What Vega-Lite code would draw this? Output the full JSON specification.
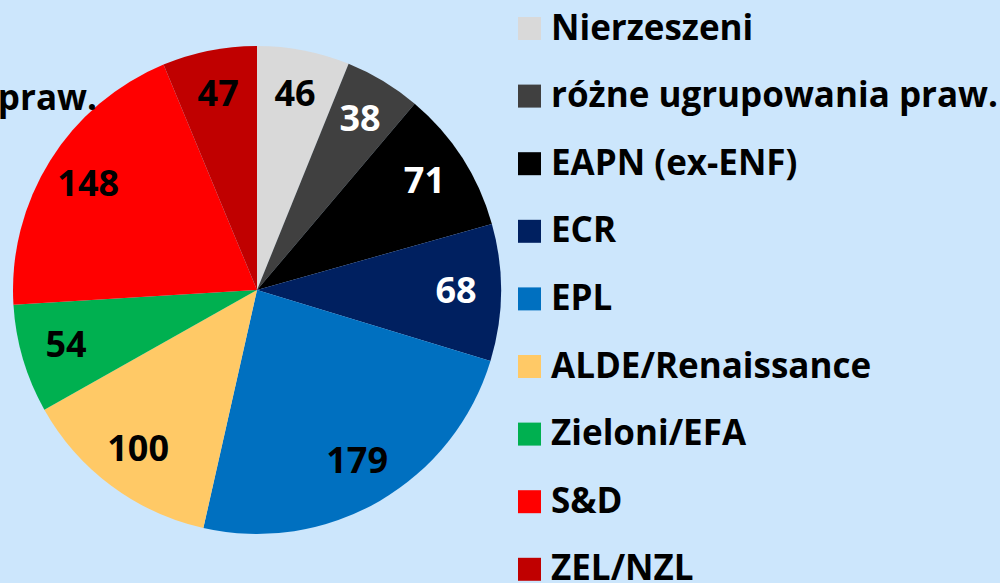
{
  "$schema": "https://vega.github.io/schema/vega-lite/v6.json",
  "autosize": "none",
  "width": 488,
  "height": 488,
  "padding": {"left": 13, "top": 46, "right": 499, "bottom": 49},
  "background": "#cce6fc",
  "title": {
    "text": "różne ugrupowania praw.",
    "anchor": "start",
    "align": "right",
    "baseline": "alphabetic",
    "dx": 84,
    "dy": 138,
    "font": "Open Sans",
    "fontSize": 35,
    "fontWeight": "bold",
    "color": "#000000"
  },
  "data": {
    "values": [
      {"party": "Nierzeszeni", "seats": 46, "idx": 1},
      {"party": "różne ugrupowania praw.", "seats": 38, "idx": 2},
      {"party": "EAPN (ex-ENF)", "seats": 71, "idx": 3},
      {"party": "ECR", "seats": 68, "idx": 4},
      {"party": "EPL", "seats": 179, "idx": 5},
      {"party": "ALDE/Renaissance", "seats": 100, "idx": 6},
      {"party": "Zieloni/EFA", "seats": 54, "idx": 7},
      {"party": "S&D", "seats": 148, "idx": 8},
      {"party": "ZEL/NZL", "seats": 47, "idx": 9}
    ]
  },
  "encoding": {
    "theta": {"field": "seats", "type": "quantitative", "stack": true},
    "order": {"field": "idx", "type": "quantitative"}
  },
  "layer": [
    {
      "mark": {"type": "arc", "stroke": null},
      "encoding": {
        "color": {
          "field": "party",
          "type": "nominal",
          "scale": {
            "domain": ["Nierzeszeni", "różne ugrupowania praw.", "EAPN (ex-ENF)", "ECR", "EPL", "ALDE/Renaissance", "Zieloni/EFA", "S&D", "ZEL/NZL"],
            "range": ["#d9d9d9", "#404040", "#000000", "#002060", "#0070c0", "#ffc966", "#00b050", "#ff0000", "#c00000"]
          },
          "legend": {
            "orient": "none",
            "legendX": 499,
            "legendY": -35,
            "title": null,
            "symbolType": "square",
            "symbolSize": 529,
            "symbolStrokeWidth": 0,
            "symbolOpacity": 1,
            "labelFont": "Open Sans",
            "labelFontSize": 35,
            "labelFontWeight": "bold",
            "labelColor": "#000000",
            "labelOffset": 4,
            "labelLimit": 0,
            "rowPadding": 31.6,
            "padding": 0,
            "offset": 0
          }
        }
      }
    },
    {
      "mark": {"type": "text", "radius": 199, "font": "Open Sans", "fontSize": 36, "fontWeight": "bold"},
      "encoding": {
        "text": {"field": "seats", "type": "quantitative"},
        "color": {
          "condition": {"test": "datum.party === 'różne ugrupowania praw.' || datum.party === 'EAPN (ex-ENF)' || datum.party === 'ECR'", "value": "#ffffff"},
          "value": "#000000"
        }
      }
    }
  ]
}
